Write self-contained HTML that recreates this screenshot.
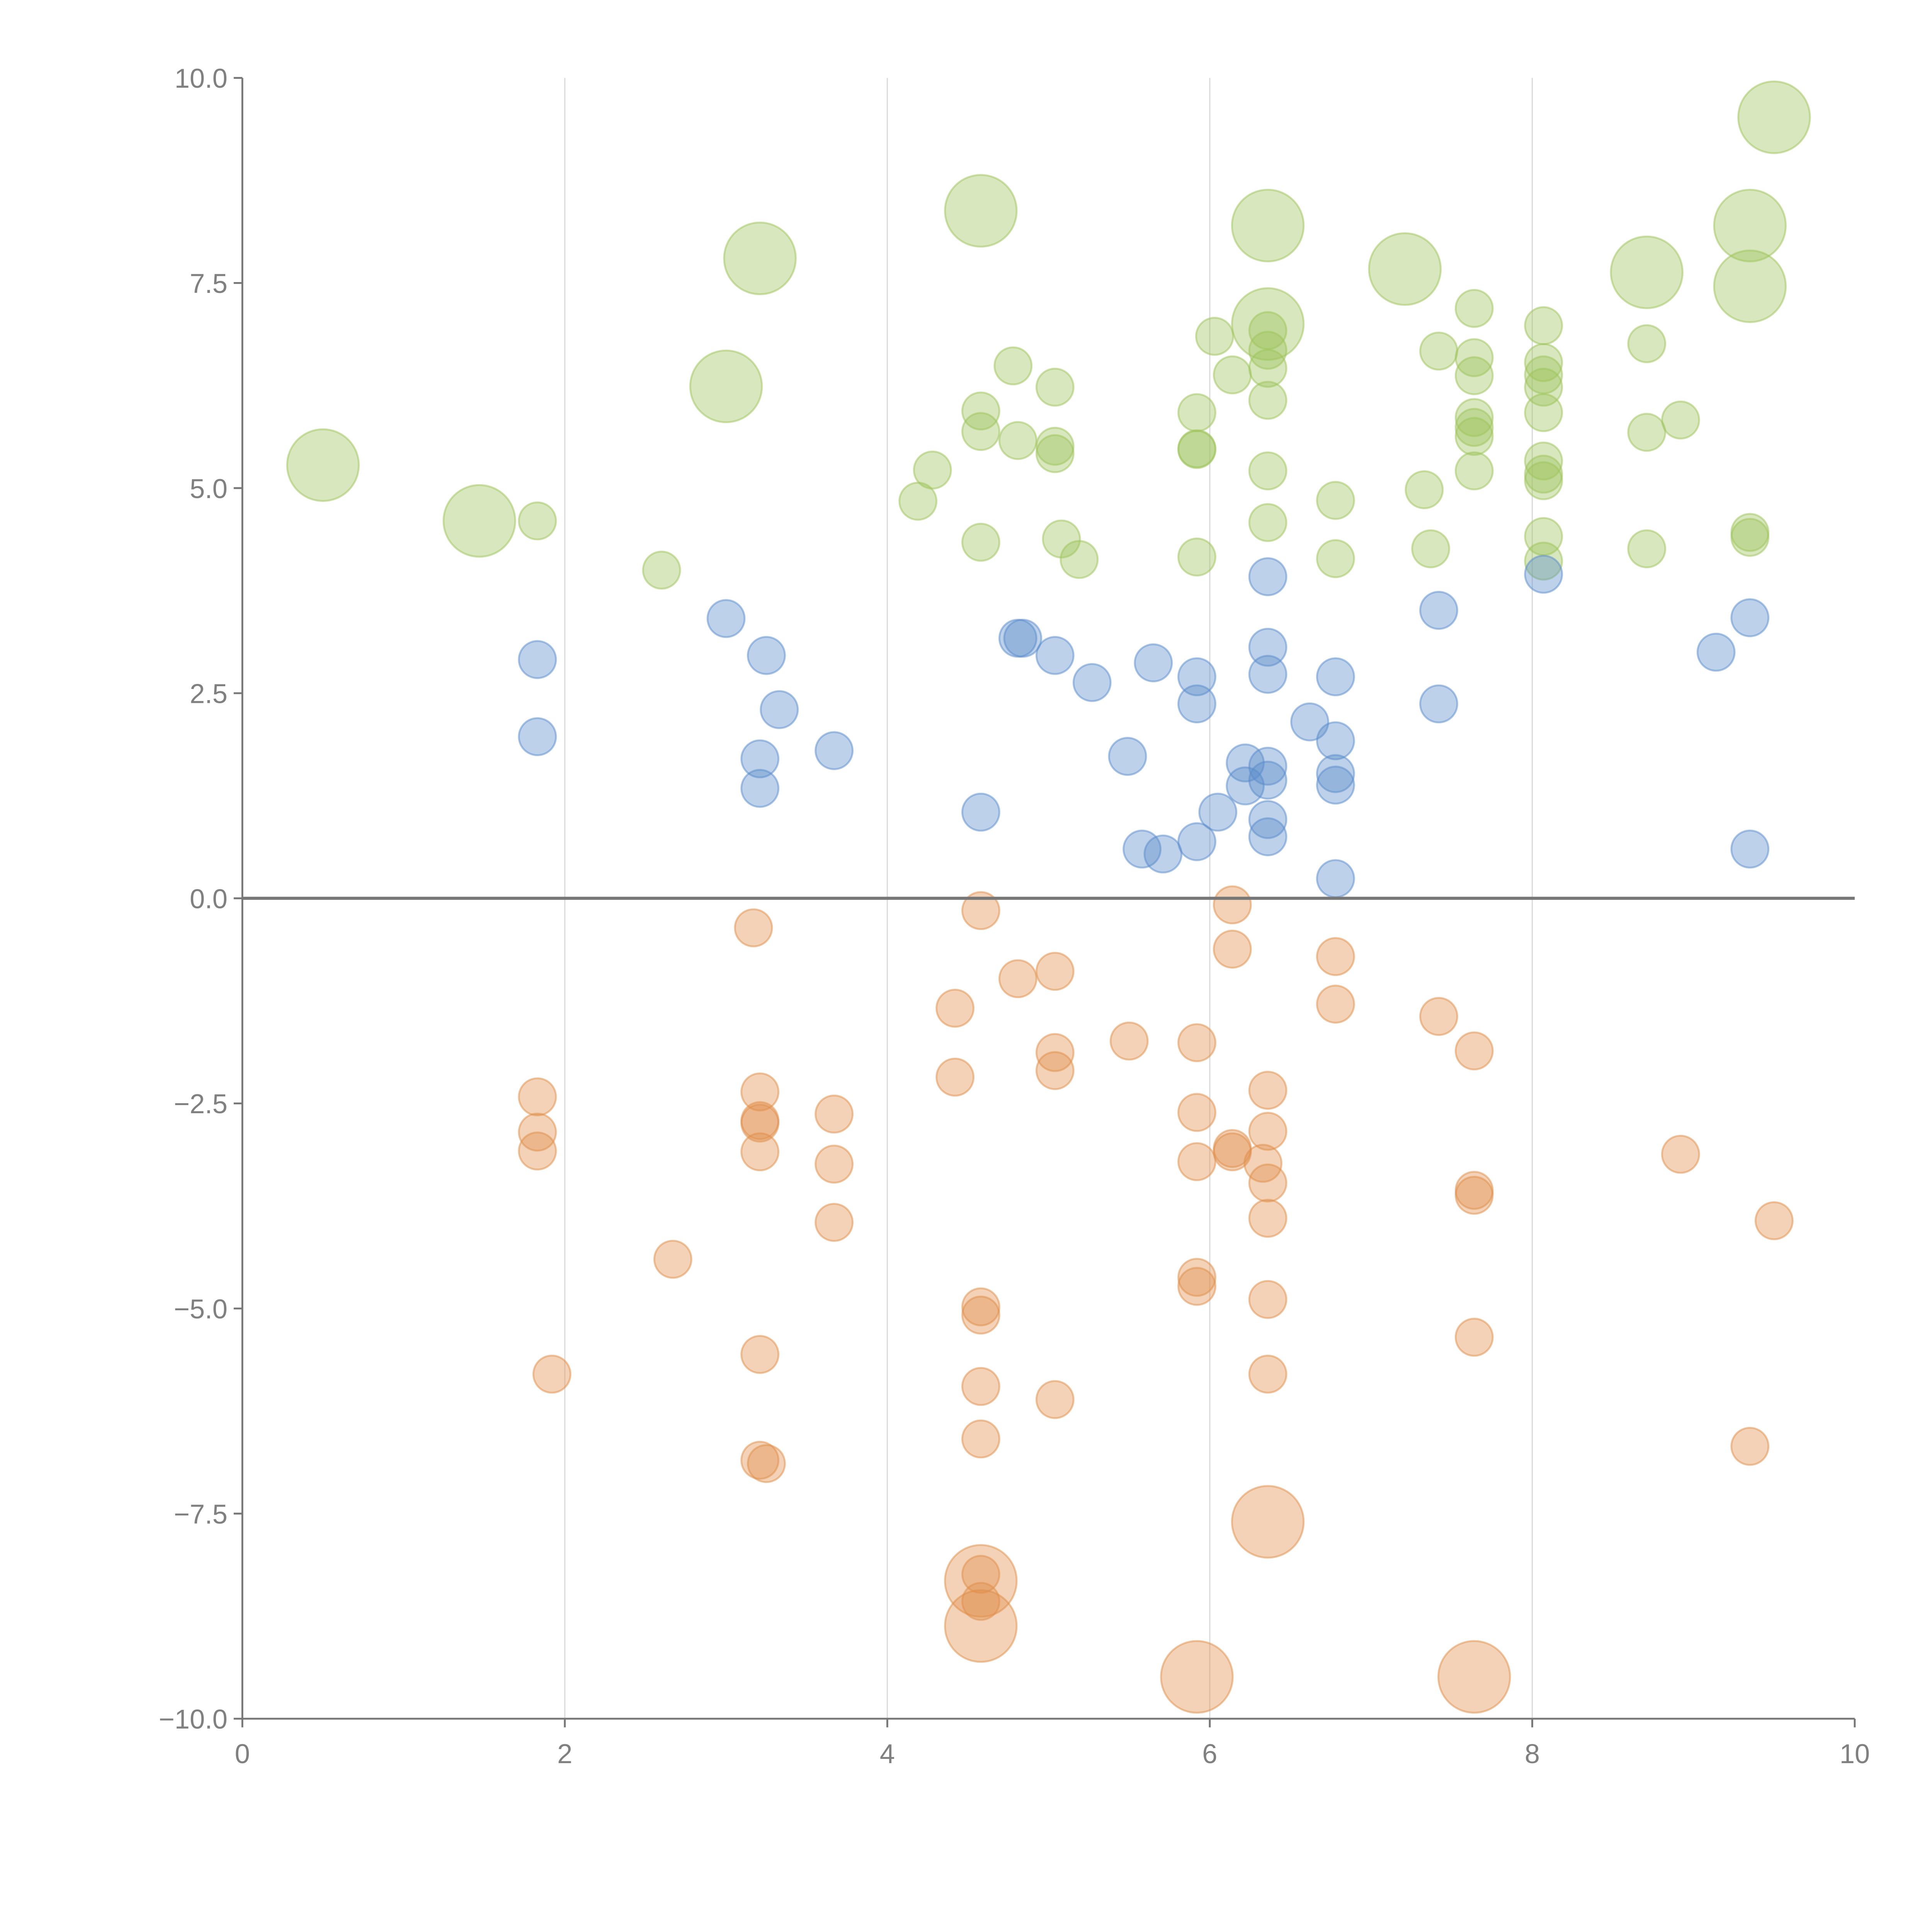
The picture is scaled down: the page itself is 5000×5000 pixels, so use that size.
<!DOCTYPE html>
<html><head><meta charset="utf-8">
<style>html,body{margin:0;padding:0;background:#fff;}svg{display:block}</style>
</head><body>
<svg id="chart" width="5000" height="5000" viewBox="0 0 1562.5 1562.5" xmlns="http://www.w3.org/2000/svg" font-family="Liberation Sans, sans-serif"></svg>
<script>
const xTicks=[0,2,4,6,8,10];
const yTicks=[-10,-7.5,-5,-2.5,0,2.5,5,7.5,10];
const greenBigX=[0.5,1.47,3.0,3.21,4.58,6.36,6.36,7.21,8.71,9.35,9.35,9.5];
const greenBigY=[5.28,4.6,6.24,7.8,8.38,8.2,7.0,7.67,7.63,8.2,7.46,9.52];
const greenX=[1.83,2.6,4.19,4.28,4.58,4.58,4.58,4.78,4.81,5.04,5.04,5.04,5.08,5.19,5.92,5.92,5.92,5.92,6.03,6.14,6.36,6.36,6.36,6.36,6.36,6.36,6.78,6.78,7.33,7.37,7.42,7.64,7.64,7.64,7.64,7.64,7.64,7.64,8.07,8.07,8.07,8.07,8.07,8.07,8.07,8.07,8.07,8.07,8.71,8.71,8.71,8.92,9.35,9.35];
const greenY=[4.6,4.0,4.84,5.22,5.94,5.69,4.34,6.49,5.58,6.23,5.51,5.42,4.38,4.13,5.92,5.48,5.47,4.16,6.85,6.38,6.92,6.68,6.46,6.07,5.21,4.58,4.85,4.14,4.98,4.26,6.67,7.19,6.59,6.37,5.86,5.74,5.63,5.21,6.98,6.53,6.38,6.23,5.92,5.33,5.17,5.09,4.41,4.11,6.76,5.68,4.26,5.83,4.46,4.4];
const blueX=[1.83,1.83,3.0,3.21,3.21,3.25,3.33,3.67,4.58,4.81,4.84,5.04,5.27,5.49,5.58,5.65,5.71,5.92,5.92,5.92,6.05,6.22,6.22,6.36,6.36,6.36,6.36,6.36,6.36,6.36,6.62,6.78,6.78,6.78,6.78,6.78,7.42,7.42,8.07,9.14,9.35,9.35];
const blueY=[2.91,1.97,3.41,1.70,1.34,2.96,2.3,1.8,1.05,3.17,3.17,2.96,2.63,1.73,0.6,2.87,0.54,2.7,2.37,0.69,1.05,1.65,1.37,3.92,3.06,2.73,1.61,1.44,0.96,0.75,2.15,2.7,1.92,1.52,1.38,0.24,3.51,2.37,3.95,3.0,3.42,0.6];
const orangeX=[3.17,4.58,6.14,6.14,6.78,6.78,4.81,5.04,4.42,7.42,5.5,5.92,7.64,5.04,5.04,4.42,1.83,3.21,6.36,3.67,5.92,3.21,3.21,1.83,6.36,1.83,3.21,6.14,6.14,8.92,5.92,6.33,3.67,6.36,7.64,7.64,3.67,6.36,9.5,2.67,5.92,5.92,6.36,4.58,4.58,7.64,3.21,1.92,6.36,4.58,5.04,4.58,9.35,3.21,3.25,4.58,4.58];
const orangeY=[-0.36,-0.15,-0.08,-0.62,-0.71,-1.29,-0.98,-0.89,-1.34,-1.44,-1.74,-1.76,-1.86,-1.88,-2.1,-2.18,-2.42,-2.36,-2.34,-2.63,-2.61,-2.71,-2.74,-2.85,-2.84,-3.08,-3.09,-3.05,-3.09,-3.12,-3.21,-3.23,-3.24,-3.47,-3.56,-3.62,-3.95,-3.9,-3.93,-4.4,-4.62,-4.73,-4.89,-4.98,-5.08,-5.35,-5.56,-5.8,-5.8,-5.95,-6.11,-6.59,-6.68,-6.85,-6.89,-8.24,-8.57];
const orangeBigX=[6.36,4.58,4.58,5.92,7.64];
const orangeBigY=[-7.6,-8.32,-8.87,-9.49,-9.49];

const svg=document.getElementById('chart');
const NS='http://www.w3.org/2000/svg';
const X0=196,X1=1500,Y0=1390,Y1=63;
const sx=v=>X0+(v-0)/(10-0)*(X1-X0);
const sy=v=>Y0-(v+10)/20*(Y0-Y1);
function mk(tag,attrs,parent){const e=document.createElementNS(NS,tag);for(const k in attrs)e.setAttribute(k,attrs[k]);(parent||svg).appendChild(e);return e;}

const grid=mk('g',{});


[2,4,6,8].forEach(v=>{const l=mk('line',{x1:sx(v),x2:sx(v),y1:Y1,y2:Y0,stroke:'#dcdcdc','stroke-width':1},grid);

});

function series(xs,ys,r,color,name){
  const g=mk('g',{});
  
  
  xs.forEach((x,i)=>{const c=mk('circle',{cx:sx(x),cy:sy(ys[i]),r:r,fill:color,'fill-opacity':0.4,stroke:color,'stroke-opacity':0.5,'stroke-width':1.5},g);
  
  });
}
series(greenBigX,greenBigY,29,'#9dc35b','green-large-bubbles');
series(greenX,greenY,15,'#9dc35b','green-bubbles');
series(blueX,blueY,15,'#5a8bcb','blue-bubbles');
series(orangeX,orangeY,15,'#e08e4a','orange-bubbles');
series(orangeBigX,orangeBigY,29,'#e08e4a','orange-large-bubbles');

const zl=mk('line',{x1:X0,x2:X1,y1:sy(0),y2:sy(0),stroke:'#777','stroke-width':2.5});



const ax=mk('g',{});


mk('line',{x1:X0,x2:X1,y1:Y0,y2:Y0,stroke:'#777','stroke-width':1.5},ax);
xTicks.forEach(v=>{mk('line',{x1:sx(v),x2:sx(v),y1:Y0,y2:Y0+7,stroke:'#777','stroke-width':1.5},ax);
const t=mk('text',{x:sx(v),y:Y0+36,'text-anchor':'middle','font-size':22,fill:'#808080'},ax);t.textContent=v;

});

const ay=mk('g',{});


mk('line',{x1:X0,x2:X0,y1:Y1,y2:Y0,stroke:'#777','stroke-width':1.5},ay);
yTicks.forEach(v=>{mk('line',{x1:X0-7,x2:X0,y1:sy(v),y2:sy(v),stroke:'#777','stroke-width':1.5},ay);
const t=mk('text',{x:X0-12,y:sy(v)+8,'text-anchor':'end','font-size':22,fill:'#808080'},ay);
t.textContent=(v<0?'\u2212':'')+Math.abs(v).toFixed(1);

});
</script>
</body></html>
